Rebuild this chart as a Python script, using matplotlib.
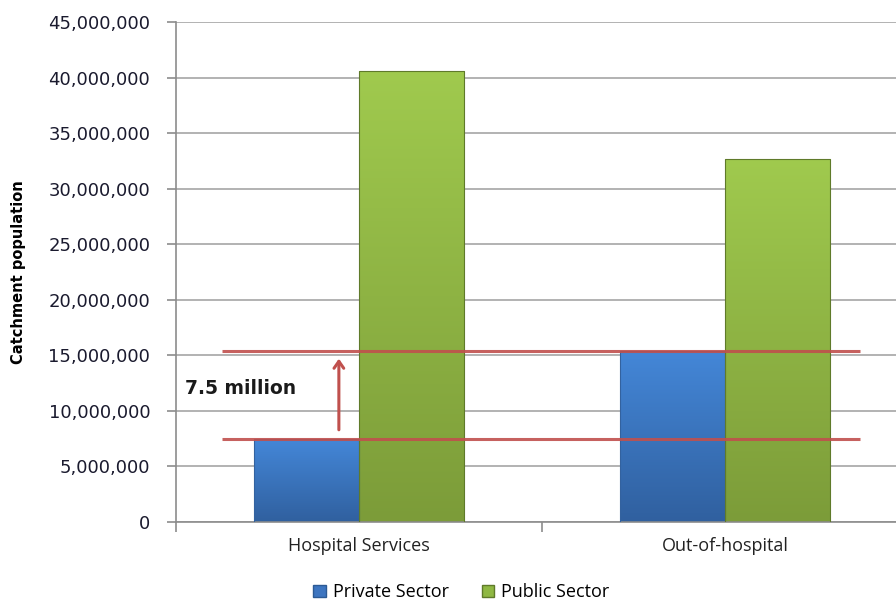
import matplotlib.pyplot as plt
import numpy as np
from matplotlib.ticker import FuncFormatter
from matplotlib.patches import Patch
from matplotlib.colors import LinearSegmentedColormap

categories = ["Hospital Services", "Out-of-hospital"]
private_sector = [7_450_000, 15_400_000]
public_sector = [40_600_000, 32_700_000]
ref_lines = [7_450_000, 15_400_000]

fig = plt.figure(figsize=(8.96, 6.0), dpi=100)
ax = fig.add_axes([176 / 896, 78 / 600, 732 / 896, 500 / 600])

x = np.arange(len(categories))
w = 0.287

def gradient_bars(xs, heights, top, bottom, edge):
    bars = ax.bar(xs, heights, w, color="none", edgecolor=edge, linewidth=0.8, zorder=3)
    grad = np.linspace(0, 1, 256).reshape(-1, 1)
    cmap = LinearSegmentedColormap.from_list("g", [bottom, top])
    for b in bars:
        x0, y0 = b.get_x(), b.get_y()
        im = ax.imshow(grad, extent=[x0, x0 + b.get_width(), y0, y0 + b.get_height()],
                       origin="lower", aspect="auto", cmap=cmap, zorder=2)
        im.set_clip_path(b)
    return bars

gradient_bars(x - w / 2, private_sector, "#4487d8", "#30609f", "#33629f")
gradient_bars(x + w / 2, public_sector, "#a0ca4e", "#7c9c39", "#5f7a2a")

ax.set_xlim(-0.5, 1.5)
ax.set_ylim(0, 45_000_000)
ax.set_yticks(np.arange(0, 45_000_001, 5_000_000))
ax.yaxis.set_major_formatter(FuncFormatter(lambda v, p: f"{int(v):,}"))
ax.yaxis.grid(True, color="#a6a6a6", linewidth=1.2, zorder=0)
ax.set_axisbelow(True)
ax.set_xticks([-0.5, 0.5, 1.5])
ax.set_xticklabels([])
ax.set_xticks(x, minor=True)
ax.set_xticklabels(categories, minor=True, fontsize=13, family="Open Sans", color="#222222")
ax.tick_params(axis="x", which="minor", length=0, pad=11)
ax.tick_params(axis="x", which="major", length=7, color="#8c8c8c", width=1.2)
ax.tick_params(axis="y", length=6.5, color="#8c8c8c", width=1.2, labelsize=13, pad=12, labelcolor="#1a1a2e")
for s in ["top", "right"]:
    ax.spines[s].set_visible(False)
for s in ["left", "bottom"]:
    ax.spines[s].set_color("#8c8c8c")
    ax.spines[s].set_linewidth(1.2)

ax.set_ylabel("Catchment population", fontsize=10.5, fontweight="bold", family="DejaVu Sans",
              labelpad=16)

# horizontal markers and the gap between them
for v in ref_lines:
    ax.plot([-0.374, 1.37], [v, v], color="#c0504d", linewidth=2.2, alpha=0.9, zorder=5, solid_capstyle="butt")
ax.annotate("", xy=(-0.055, ref_lines[1] - 450_000), xytext=(-0.055, ref_lines[0] + 600_000),
            arrowprops=dict(arrowstyle="->,head_length=0.5,head_width=0.35", color="#c0504d", lw=2.2),
            zorder=6)
ax.text(-0.475, 12_050_000, "7.5 million", fontsize=13.5, fontweight="bold", color="#1a1a1a",
        va="center", ha="left", zorder=6)

handles = [Patch(facecolor="#3d75c0", edgecolor="#2c5a94"), Patch(facecolor="#8fb843", edgecolor="#5f7a2a")]
fig.legend(handles, ["Private Sector", "Public Sector"], loc="center", bbox_to_anchor=(0.515, 0.013),
           ncol=2, frameon=False, prop={"family": "Open Sans", "size": 13},
           handlelength=0.7, handleheight=0.7, columnspacing=1.8, handletextpad=0.4)

fig.savefig("out.png", dpi=100)
